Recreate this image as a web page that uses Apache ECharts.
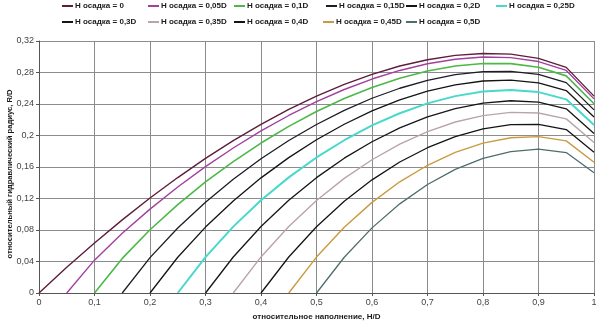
<!DOCTYPE html>
<html><head><meta charset="utf-8">
<script src="https://cdn.jsdelivr.net/npm/echarts@6/dist/echarts.min.js"></script>
<style>html,body{margin:0;padding:0;background:#fff}#c{width:605px;height:324px}</style>
</head><body><div id="c"></div>
<script>
// relative fill H/D grid
const fill = [0,0.05,0.1,0.15,0.2,0.25,0.3,0.35,0.4,0.45,0.5,0.55,0.6,0.65,0.7,0.75,0.8,0.85,0.9,0.95,1];
// sediment heights (fraction of D) and legend names
const sediment = [0,0.05,0.1,0.15,0.2,0.25,0.3,0.35,0.4,0.45,0.5];
const names = ['H осадка = 0','H осадка = 0,05D','H осадка = 0,1D','H осадка = 0,15D','H осадка = 0,2D','H осадка = 0,25D','H осадка = 0,3D','H осадка = 0,35D','H осадка = 0,4D','H осадка = 0,45D','H осадка = 0,5D'];
// relative hydraulic radius R/D, starting at H/D = sediment level
const r000 = [0,0.0326,0.0635,0.0929,0.1206,0.1466,0.1709,0.1935,0.2142,0.2331,0.2500,0.2649,0.2776,0.2882,0.2962,0.3017,0.3042,0.3033,0.2980,0.2865,0.2500];
const r005 = [0,0.0417,0.0759,0.1065,0.1346,0.1604,0.1841,0.2058,0.2254,0.2430,0.2584,0.2717,0.2826,0.2911,0.2968,0.2996,0.2989,0.2939,0.2826,0.2465];
const r010 = [0,0.0439,0.0803,0.1123,0.1410,0.1669,0.1904,0.2116,0.2304,0.2469,0.2610,0.2727,0.2818,0.2882,0.2915,0.2913,0.2867,0.2757,0.2403];
const r015 = [0,0.0449,0.0825,0.1153,0.1444,0.1704,0.1936,0.2140,0.2320,0.2473,0.2600,0.2700,0.2772,0.2812,0.2815,0.2775,0.2671,0.2325];
const r020 = [0,0.0454,0.0837,0.1169,0.1462,0.1719,0.1946,0.2143,0.2312,0.2452,0.2563,0.2644,0.2692,0.2703,0.2669,0.2571,0.2235];
const r025 = [0,0.0456,0.0843,0.1177,0.1468,0.1721,0.1940,0.2128,0.2283,0.2408,0.2500,0.2558,0.2577,0.2551,0.2459,0.2134];
const r030 = [0,0.0457,0.0845,0.1178,0.1465,0.1712,0.1921,0.2096,0.2237,0.2342,0.2411,0.2441,0.2423,0.2339,0.2026];
const r035 = [0,0.0458,0.0844,0.1174,0.1455,0.1692,0.1890,0.2049,0.2171,0.2253,0.2294,0.2285,0.2211,0.1910];
const r040 = [0,0.0457,0.0841,0.1165,0.1437,0.1663,0.1845,0.1986,0.2084,0.2137,0.2140,0.2075,0.1788];
const r045 = [0,0.0456,0.0835,0.1151,0.1412,0.1622,0.1786,0.1903,0.1971,0.1986,0.1932,0.1660];
const r050 = [0,0.0454,0.0827,0.1132,0.1378,0.1570,0.1709,0.1796,0.1826,0.1783,0.1528];
const radius = [r000,r005,r010,r015,r020,r025,r030,r035,r040,r045,r050];
const xTicks = [0,0.1,0.2,0.3,0.4,0.5,0.6,0.7,0.8,0.9,1];
const yTicks = [0,0.04,0.08,0.12,0.16,0.2,0.24,0.28,0.32];

const colors = ['#5e1d3c','#a2409f','#4cb848','#1c1c28','#141414','#48d8cc','#161616','#b9a3ae','#141414','#c99a40','#4f6d6c'];
const widths = [1.4,1.4,1.6,1.3,1.3,2,1.3,1.4,1.3,1.4,1.3];
const legendPos = [[62,2],[148,2],[234,2],[326,2],[406,2],[496,2],[62,18],[148,18],[234,18],[323,18],[406,18]];
const fmt = v => String(Math.round(v*100)/100).replace('.', ',');
const font = "'Liberation Sans', Arial, sans-serif";

const series = sediment.map((s, i) => {
  const start = fill.findIndex(x => Math.abs(x - s) < 1e-9);
  return {
    name: names[i], type: 'line', showSymbol: false, animation: false,
    data: radius[i].map((r, j) => [fill[start + j], r]),
    lineStyle: {color: colors[i], width: widths[i]},
    itemStyle: {color: colors[i]}, z: 20 - i
  };
});
const legends = names.map((n, i) => ({
  data: [n], left: legendPos[i][0], top: legendPos[i][1], icon: 'rect', itemWidth: 11, itemHeight: 2,
  itemGap: 0, padding: 0, selectedMode: false,
  textStyle: {fontFamily: font, fontSize: 8, fontWeight: 'bold', color: '#1a1a1a', padding: [0,0,0,-3]}
}));
const chart = echarts.init(document.getElementById('c'), null, {renderer: 'canvas'});
chart.setOption({
  backgroundColor: '#fff',
  animation: false,
  color: colors,
  legend: legends,
  grid: {left: 39, right: 11, top: 41, bottom: 31, containLabel: false, outerBoundsMode: 'none'},
  xAxis: {
    type: 'value', min: xTicks[0], max: xTicks[xTicks.length-1], interval: 0.1,
    name: 'относительное наполнение, H/D', nameLocation: 'middle', nameGap: 20,
    nameTextStyle: {fontFamily: font, fontSize: 8, fontWeight: 'bold', color: '#1a1a1a'},
    axisLine: {lineStyle: {color: '#555', width: 1}},
    axisTick: {show: true, length: 3, lineStyle: {color: '#555'}},
    axisLabel: {formatter: fmt, fontFamily: font, fontSize: 9, color: '#444', margin: 5},
    splitLine: {show: true, lineStyle: {color: '#8c8c8c', width: 1}}
  },
  yAxis: {
    type: 'value', min: yTicks[0], max: yTicks[yTicks.length-1], interval: 0.04,
    name: 'относительный гидравлический радиус, R/D', nameLocation: 'middle', nameGap: 25,
    nameMoveOverlap: false,
    nameTextStyle: {fontFamily: font, fontSize: 7.6, fontWeight: 'bold', color: '#1a1a1a', padding: [0,14,0,0]},
    axisLine: {show: true, lineStyle: {color: '#555', width: 1}},
    axisTick: {show: true, length: 3, lineStyle: {color: '#555'}},
    axisLabel: {formatter: fmt, fontFamily: font, fontSize: 9, color: '#444', margin: 5},
    splitLine: {show: true, lineStyle: {color: '#8c8c8c', width: 1}}
  },
  series: series
});
</script></body></html>
